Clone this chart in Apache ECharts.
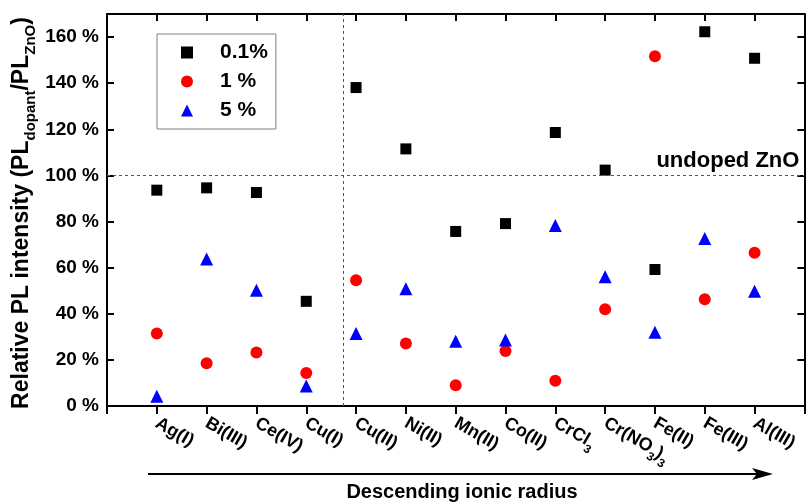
<!DOCTYPE html>
<html>
<head>
<meta charset="utf-8">
<script src="https://cdn.jsdelivr.net/npm/echarts@6/dist/echarts.min.js"></script>
<style>
  html, body { margin: 0; padding: 0; background: #fff; }
  #chart { width: 807px; height: 502px; }
</style>
</head>
<body>
<div id="chart"></div>
<script>
// dopants, ordered by descending ionic radius
var categories = ['Ag(I)', 'Bi(III)', 'Ce(IV)', 'Cu(I)', 'Cu(II)', 'Ni(II)', 'Mn(II)', 'Co(II)', 'CrCl3', 'Cr(NO3)3', 'Fe(II)', 'Fe(III)', 'Al(III)']
// relative PL intensity (%), one array per dopant concentration
var pct01 = [93.6, 94.6, 92.6, 45.4, 138.1, 111.5, 75.7, 79.1, 118.6, 102.3, 59.2, 162.3, 150.8]
var pct1 = [31.4, 18.5, 23.2, 14.3, 54.5, 27.1, 9.0, 23.9, 10.9, 42.0, 151.7, 46.3, 66.5]
var pct5 = [4.2, 63.7, 50.2, 8.7, 31.4, 50.9, 28.1, 28.6, 78.3, 56.1, 32.0, 72.6, 49.8]
var seriesNames = ['0.1%', '1 %', '5 %']
var yTicks = [0, 20, 40, 60, 80, 100, 120, 140, 160]
var undopedLevel = 100
var splitPosition = 4.75

var FONT = 'Liberation Sans, Arial, sans-serif'

function toPoints(values) {
  return values.map(function (v, i) { return [i + 1, v] })
}

var chart = echarts.init(document.getElementById('chart'))

chart.setOption({
  backgroundColor: '#fff',
  animation: false,
  grid: {
    left: 107,
    right: 0,
    top: 14,
    bottom: 96
  },
  legend: {
    orient: 'vertical',
    left: 157,
    top: 34,
    padding: [8, 8, 8, 24],
    itemGap: 8,
    itemWidth: 12,
    itemHeight: 12,
    borderColor: '#808080',
    borderWidth: 1,
    textStyle: {
      fontFamily: FONT,
      fontSize: 21,
      fontWeight: 'bold',
      color: '#000',
      lineHeight: 21,
      padding: [0, 0, 0, 22]
    },
    data: [
      { name: seriesNames[0], icon: 'rect' },
      { name: seriesNames[1], icon: 'circle' },
      { name: seriesNames[2], icon: 'triangle' }
    ]
  },
  xAxis: [{
    type: 'value',
    min: 0,
    max: 14,
    interval: 1,
    position: 'bottom',
    axisLine: { onZero: false, lineStyle: { color: '#000', width: 2 } },
    axisTick: { inside: false, length: 8, lineStyle: { color: '#000', width: 2 } },
    splitLine: { show: false },
    axisLabel: {
      rotate: -30,
      margin: 16,
      fontFamily: FONT,
      fontSize: 18,
      fontWeight: 'bold',
      color: '#000',
      formatter: function (v) {
        var name = categories[Math.round(v) - 1]
        if (!name) return ''
        return name.replace(/(\d)/g, '{s|$1}')
      },
      rich: {
        s: { fontFamily: FONT, fontSize: 12, fontWeight: 'bold', color: '#000', padding: [16, 0, 0, 0] }
      }
    }
  }, {
    type: 'value',
    min: 0,
    max: 14,
    interval: 1,
    position: 'top',
    axisLine: { onZero: false, lineStyle: { color: '#000', width: 2 } },
    axisTick: { inside: true, length: 7, lineStyle: { color: '#000', width: 2 } },
    axisLabel: { show: false },
    splitLine: { show: false }
  }],
  yAxis: [{
    type: 'value',
    min: 0,
    max: 170,
    interval: 20,
    position: 'left',
    axisLine: { show: true, onZero: false, lineStyle: { color: '#000', width: 2 } },
    axisTick: { show: true, inside: true, length: 7, lineStyle: { color: '#000', width: 2 } },
    splitLine: { show: false },
    axisLabel: {
      margin: 8,
      fontFamily: FONT,
      fontSize: 19,
      fontWeight: 'bold',
      color: '#000',
      formatter: function (v) {
        return yTicks.indexOf(v) > -1 ? v + ' %' : ''
      }
    }
  }, {
    type: 'value',
    min: 0,
    max: 170,
    interval: 20,
    position: 'right',
    axisLine: { show: true, onZero: false, lineStyle: { color: '#000', width: 2 } },
    axisTick: { show: true, inside: true, length: 7, lineStyle: { color: '#000', width: 2 } },
    axisLabel: { show: false },
    splitLine: { show: false }
  }],
  series: [{
    name: seriesNames[0],
    type: 'scatter',
    symbol: 'rect',
    symbolSize: 11,
    itemStyle: { color: '#000', opacity: 1 },
    data: toPoints(pct01),
    markLine: {
      silent: true,
      symbol: 'none',
      animation: false,
      lineStyle: { color: '#555', width: 1, type: [3, 3] },
      data: [{
        yAxis: undopedLevel,
        label: {
          show: true,
          position: 'insideEndTop',
          distance: [5, 3],
          formatter: 'undoped ZnO',
          fontFamily: FONT,
          fontSize: 22,
          fontWeight: 'bold',
          color: '#000'
        }
      }, {
        xAxis: splitPosition,
        label: { show: false }
      }]
    }
  }, {
    name: seriesNames[1],
    type: 'scatter',
    symbol: 'circle',
    symbolSize: 12,
    itemStyle: { color: '#ff0000', opacity: 1 },
    data: toPoints(pct1)
  }, {
    name: seriesNames[2],
    type: 'scatter',
    symbol: 'triangle',
    symbolSize: 13,
    itemStyle: { color: '#0000ff', opacity: 1 },
    data: toPoints(pct5)
  }],
  graphic: [{
    type: 'text',
    x: 22,
    y: 213,
    rotation: Math.PI / 2,
    style: {
      text: 'Relative PL intensity (PL{s|dopant}/PL{s|ZnO})',
      fontFamily: FONT,
      fontSize: 23,
      fontWeight: 'bold',
      fill: '#000',
      align: 'center',
      verticalAlign: 'middle',
      rich: {
        s: { fontFamily: FONT, fontSize: 15, fontWeight: 'bold', fill: '#000', padding: [18, 0, 0, 0] }
      }
    }
  }, {
    type: 'polyline',
    shape: { points: [[148, 474], [760, 474]] },
    style: { stroke: '#000', lineWidth: 2 }
  }, {
    type: 'polygon',
    shape: { points: [[773, 474], [752, 468], [757, 474], [752, 480]] },
    style: { fill: '#000' }
  }, {
    type: 'text',
    x: 462,
    y: 492,
    style: {
      text: 'Descending ionic radius',
      fontFamily: FONT,
      fontSize: 20,
      fontWeight: 'bold',
      fill: '#000',
      align: 'center',
      verticalAlign: 'middle'
    }
  }]
})
</script>
</body>
</html>
